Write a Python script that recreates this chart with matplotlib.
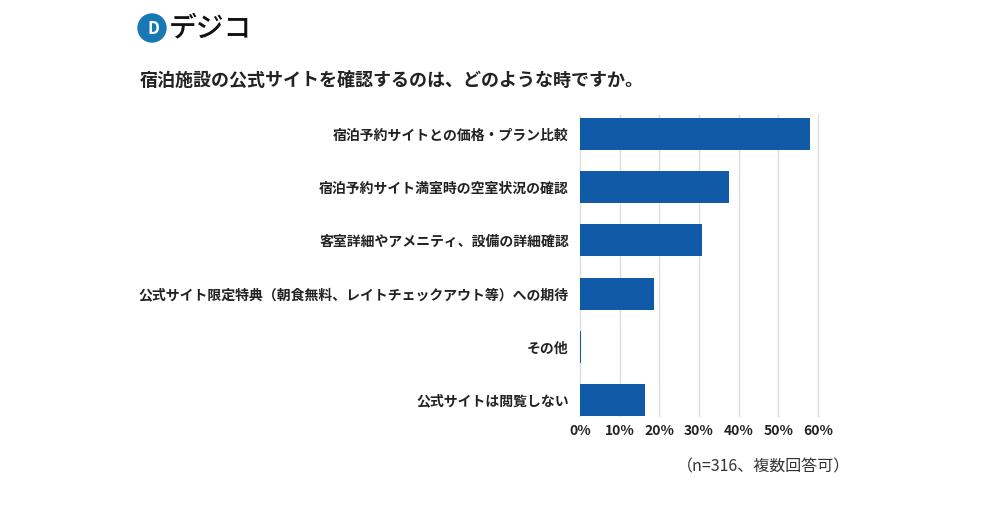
import matplotlib.pyplot as plt
from matplotlib.patches import Circle

plt.rcParams['font.family'] = ['Noto Sans CJK JP', 'DejaVu Sans']

# data
categories = [
    "宿泊予約サイトとの価格・プラン比較",
    "宿泊予約サイト満室時の空室状況の確認",
    "客室詳細やアメニティ、設備の詳細確認",
    "公式サイト限定特典（朝食無料、レイトチェックアウト等）への期待",
    "その他",
    "公式サイトは閲覧しない",
]
values = [57.9, 37.6, 30.7, 18.6, 0.3, 16.4]
x_ticks = [0, 10, 20, 30, 40, 50, 60]
x_tick_labels = [f"{t}%" for t in x_ticks]

title = "宿泊施設の公式サイトを確認するのは、どのような時ですか。"
note = "（n=316、複数回答可）"

fig = plt.figure(figsize=(10, 5.08), dpi=100)
ax = fig.add_axes([0.58, 0.181, 0.238, 0.593])

ypos = list(range(len(categories)))
ax.barh(ypos, values, height=0.6, color="#105aa8", zorder=3)

ax.set_xlim(0, 60)
ax.set_ylim(5.3, -0.36)
ax.set_xticks(x_ticks)
ax.set_xticklabels(x_tick_labels, fontsize=10, fontweight="bold", color="#222222")
ax.set_yticks(ypos)
ax.set_yticklabels(categories, fontsize=10, fontweight="bold", color="#222222")
ax.tick_params(axis="both", length=0, pad=8)
ax.tick_params(axis="x", pad=6)
ax.grid(axis="x", color="#dddddd", linewidth=1, zorder=0)
for line in ax.get_xgridlines():
    line.set_clip_on(False)
for s in ax.spines.values():
    s.set_visible(False)

# title and note
fig.text(0.14, 1 - 80 / 508, title, fontsize=13, fontweight="bold",
         color="#222222", va="center", ha="left")
fig.text(0.85, 1 - 467 / 508, note, fontsize=11.5, color="#333333",
         va="center", ha="right")

# logo
logo = fig.add_axes([0, 0, 1, 1], zorder=-1)
logo.set_xlim(0, 1000)
logo.set_ylim(508, 0)
logo.axis("off")
logo.add_patch(Circle((152, 28), 14, color="#1878b4"))
logo.text(153, 28.5, "D", fontsize=12, fontweight="bold", color="white",
          ha="center", va="center")
logo.text(169, 28, "デジコ", fontsize=20, fontweight="medium", color="#111111",
          ha="left", va="center")

fig.savefig("out.png", dpi=100)
